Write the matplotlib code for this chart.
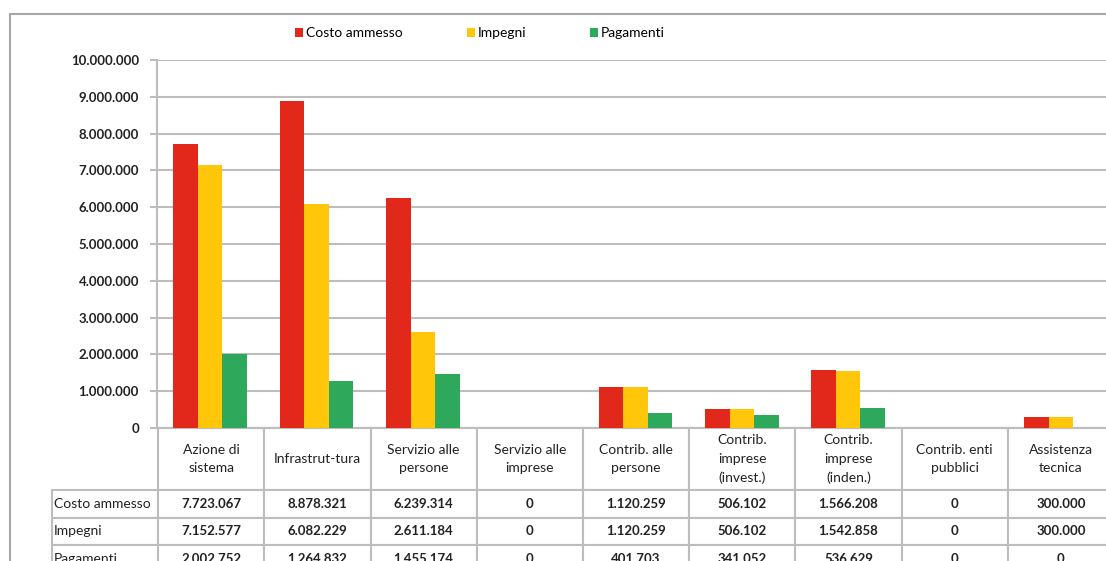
import numpy as np
import matplotlib
matplotlib.use("Agg")
from matplotlib import pyplot as plt
from matplotlib.ticker import FuncFormatter, MultipleLocator
from matplotlib.patches import Rectangle

plt.rcParams['font.family'] = ['Lato', 'DejaVu Sans']

categories = ['Azione di\nsistema', 'Infrastrut-tura', 'Servizio alle\npersone',
              'Servizio alle\nimprese', 'Contrib. alle\npersone', 'Contrib.\nimprese\n(invest.)',
              'Contrib.\nimprese\n(inden.)', 'Contrib. enti\npubblici', 'Assistenza\ntecnica']
series = ['Costo ammesso', 'Impegni', 'Pagamenti']
costo = [7723067, 8878321, 6239314, 0, 1120259, 506102, 1566208, 0, 300000]
impegni = [7152577, 6082229, 2611184, 0, 1120259, 506102, 1542858, 0, 300000]
pagamenti = [2002752, 1264832, 1455174, 0, 401703, 341052, 536629, 0, 0]
colors = ['#E2281A', '#FFC60A', '#2EA85A']
grid_col = '#BDBDBD'

def fmt(v, pos=None):
    return '{:,.0f}'.format(v).replace(',', '.')

W, H = 1106, 561
fig = plt.figure(figsize=(W / 100, H / 100), dpi=100)

# outer chart frame (cut off at right / bottom like the source)
fig.patches.append(Rectangle((10 / W, -0.1), 1.2, 1 - 14 / H + 0.1, transform=fig.transFigure,
                             fill=False, edgecolor='#A6A6A6', linewidth=1.5, zorder=0))

left, right, top, bottom = 157, 1114, 60, 428
ax = fig.add_axes([left / W, 1 - bottom / H, (right - left) / W, (bottom - top) / H])

x = np.arange(len(categories))
bw = 0.23
for i, (vals, name) in enumerate(zip([costo, impegni, pagamenti], series)):
    ax.bar(x + (i - 1) * bw, vals, bw, color=colors[i], label=name, zorder=3)

ax.set_xlim(-0.5, len(categories) - 0.5)
ax.set_ylim(0, 10000000)
ax.yaxis.set_major_locator(MultipleLocator(1000000))
ax.yaxis.set_major_formatter(FuncFormatter(fmt))
ax.grid(axis='y', color=grid_col, linewidth=1.5, zorder=0)
ax.set_axisbelow(True)
for s in ['top', 'right']:
    ax.spines[s].set_visible(False)
ax.spines['left'].set_color(grid_col)
ax.spines['left'].set_linewidth(1.5)
ax.spines['bottom'].set_color(grid_col)
ax.spines['bottom'].set_linewidth(1.5)
ax.tick_params(axis='y', length=5, width=1.5, color=grid_col, labelsize=9.5, pad=8,
               labelcolor='#222222')
ax.tick_params(axis='x', bottom=False, labelbottom=False)
for t in ax.get_yticklabels():
    t.set_fontweight('bold')

# data table below the plot (first column holds the series names)
cell_text = [[name] + [fmt(v) for v in row]
             for name, row in zip(series, [costo, impegni, pagamenti])]
tab_h = 144.5 / (bottom - top)
tab_x0 = -1.0 / len(categories) * 105 / 106.3
tbl = ax.table(cellText=cell_text, colLabels=[''] + categories,
               cellLoc='center', bbox=[tab_x0, -tab_h, 1 - tab_x0, tab_h])
tbl.auto_set_font_size(False)
for (r, c), cell in tbl.get_celld().items():
    cell.set_edgecolor(grid_col)
    cell.set_linewidth(1.5)
    cell.set_text_props(fontsize=9.5, color='#222222', fontweight='bold' if r > 0 else 'normal')
    cell.set_height(62 if r == 0 else 27.5)
    if c == 0:
        cell.get_text().set_fontweight('normal')
        cell.get_text().set_fontsize(10)
        cell.get_text().set_horizontalalignment('left')
        cell.PAD = 0.02
        cell._loc = 'left'
    if r == 0:
        cell.get_text().set_linespacing(1.65)
        cell.get_text().set_fontsize(10)
        if c == 0:
            cell.visible_edges = ''

ax.legend(loc='center', bbox_to_anchor=(480 / W, 1 - 33 / H), bbox_transform=fig.transFigure,
          ncol=3, frameon=False, fontsize=10, handlelength=0.6, handleheight=0.6,
          handletextpad=0.2, columnspacing=4.6)

fig.savefig('out.png', dpi=100)
